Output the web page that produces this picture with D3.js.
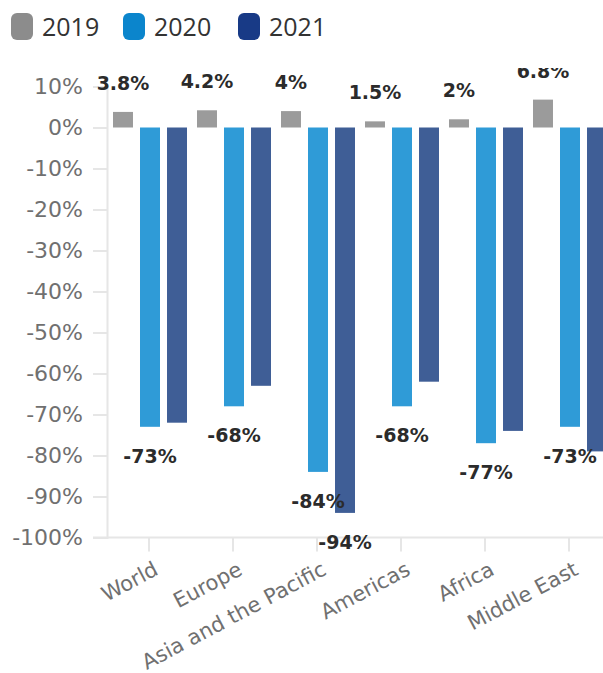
<html>
<head>
<script src="https://cdn.jsdelivr.net/npm/d3@7"></script>
<style>
  body { margin: 0; background: #fff; }
  svg { display: block; }
</style>
</head>
<body>
<svg width="603" height="673"></svg>
<script>
// regions and series
var regions = ["World", "Europe", "Asia and the Pacific", "Americas", "Africa", "Middle East"];
var years = ["2019", "2020", "2021"];
var values2019 = [3.8, 4.2, 4, 1.5, 2, 6.8];
var values2020 = [-73, -68, -84, -68, -77, -73];
var values2021 = [-72, -63, -94, -62, -74, -79];
var yTicks = [10, 0, -10, -20, -30, -40, -50, -60, -70, -80, -90, -100];
// only these 2021 labels survive the overlap check in the original
var shown2021 = ["Asia and the Pacific"];

var barColors = {"2019": "#9b9b9b", "2020": "#2f9bd7", "2021": "#3f5e96"};
var legendColors = {"2019": "#8c8c8c", "2020": "#0b85cc", "2021": "#183a86"};

var svg = d3.select("svg");

var y = d3.scaleLinear().domain([-100, 10]).range([537.5, 86.5]);
var x0 = d3.scaleBand().domain(regions).range([107, 611]);
var x1 = d3.scaleBand().domain(years).range([6, 80]).paddingInner(0.26);

// legend
var legend = svg.append("g").selectAll("g")
  .data(years).enter().append("g")
  .attr("transform", function(d, i) { return "translate(" + [11, 123, 238][i] + ",13)"; });
legend.append("rect")
  .attr("width", 22).attr("height", 27).attr("rx", 6)
  .attr("fill", function(d) { return legendColors[d]; });
legend.append("text")
  .attr("x", 31).attr("y", 23)
  .style("font-family", "Open Sans").style("font-size", "25px")
  .attr("fill", "#333")
  .text(function(d) { return d; });

// y axis
var yAxis = svg.append("g")
  .attr("transform", "translate(107,0)")
  .call(d3.axisLeft(y).tickValues(yTicks).tickSize(14).tickPadding(10)
    .tickFormat(function(d) { return d + "%"; }));
yAxis.select(".domain").attr("stroke", "#e6e6e6").attr("stroke-width", 2);
yAxis.selectAll(".tick line").attr("stroke", "#e6e6e6").attr("stroke-width", 2);
yAxis.selectAll(".tick text")
  .style("font-family", "DejaVu Sans").style("font-size", "22px")
  .attr("fill", "#707070");

// x axis
var xAxis = svg.append("g")
  .attr("transform", "translate(0," + y(-100) + ")")
  .call(d3.axisBottom(x0).tickSize(14).tickSizeOuter(0).tickPadding(0));
xAxis.select(".domain").attr("stroke", "#e6e6e6").attr("stroke-width", 2)
  .attr("d", "M93,0H611");
xAxis.selectAll(".tick line").attr("stroke", "#e6e6e6").attr("stroke-width", 2);
xAxis.selectAll(".tick text")
  .style("font-family", "DejaVu Sans").style("font-size", "21px")
  .attr("fill", "#707070")
  .attr("text-anchor", "end")
  .attr("dy", null)
  .attr("transform", "translate(4,24) rotate(-28)");

// plot area, clipped at top like the original
svg.append("clipPath").attr("id", "plotclip")
  .append("rect").attr("x", 0).attr("y", 68).attr("width", 603).attr("height", 500);

var plot = svg.append("g").attr("clip-path", "url(#plotclip)");

var rows = regions.map(function(r, i) {
  return [
    {region: r, year: "2019", v: values2019[i]},
    {region: r, year: "2020", v: values2020[i]},
    {region: r, year: "2021", v: values2021[i]}
  ];
});
var flat = d3.merge(rows);

plot.selectAll("rect.bar")
  .data(flat).enter().append("rect")
  .attr("class", "bar")
  .attr("x", function(d) { return x0(d.region) + x1(d.year); })
  .attr("width", x1.bandwidth())
  .attr("y", function(d) { return y(Math.max(0, d.v)); })
  .attr("height", function(d) { return Math.abs(y(d.v) - y(0)); })
  .attr("fill", function(d) { return barColors[d.year]; });

var labels = flat.filter(function(d) {
  return d.year != "2021" || shown2021.indexOf(d.region) >= 0;
});

plot.selectAll("text.lab")
  .data(labels).enter().append("text")
  .attr("class", "lab")
  .attr("x", function(d) { return x0(d.region) + x1(d.year) + x1.bandwidth() / 2; })
  .attr("y", function(d) { return d.v >= 0 ? y(d.v) - 22 : y(d.v) + 36; })
  .attr("text-anchor", "middle")
  .style("font-family", "DejaVu Sans").style("font-weight", "bold").style("font-size", "19px")
  .attr("fill", "#2b2b2b")
  .text(function(d) { return d.v + "%"; });
</script>
</body>
</html>
